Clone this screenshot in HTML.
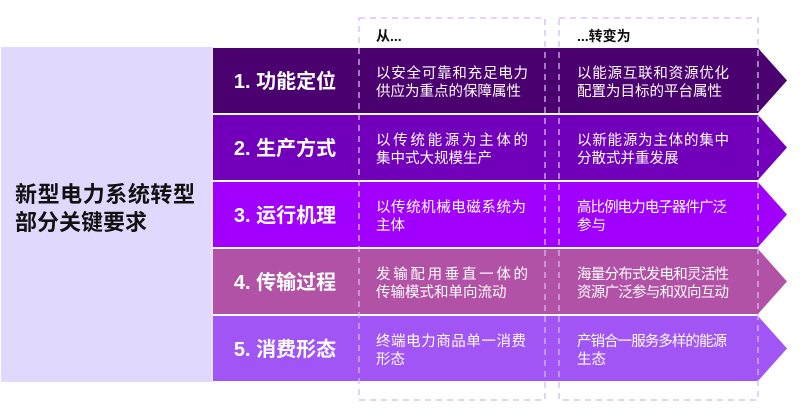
<!DOCTYPE html>
<html><head><meta charset="utf-8"><style>
html,body{margin:0;padding:0;background:#fff;}
svg{display:block;}
text{font-family:"Liberation Sans","Noto Sans CJK SC",sans-serif;}
.lab{font-size:20px;font-weight:bold;fill:#fff;text-anchor:middle;}
.t{font-size:14.5px;fill:#fff;}
.h{font-size:14px;font-weight:bold;fill:#111;}
</style></head><body>
<svg width="800" height="419" viewBox="0 0 800 419" xmlns="http://www.w3.org/2000/svg">
<rect x="0" y="0" width="800" height="419" fill="#fff"/>
<rect x="1" y="47" width="210" height="335" fill="#e1d9fd"/>
<text x="15" y="202" font-size="22" font-weight="bold" fill="#111" textLength="180">新型电力系统转型</text>
<text x="15" y="230" font-size="22" font-weight="bold" fill="#111">部分关键要求</text>

<rect x="211" y="47" width="3" height="335" fill="#e8e0ff"/>
<polygon points="213,48 758,48 787,80.5 758,113 213,113" fill="#4b006f"/>
<polygon points="213,115 758,115 787,147.5 758,180 213,180" fill="#7200bb"/>
<polygon points="213,182 758,182 787,214.5 758,247 213,247" fill="#a100ff"/>
<polygon points="213,249 758,249 787,281.5 758,314 213,314" fill="#b252a6"/>
<polygon points="213,316 758,316 787,348.5 758,381 213,381" fill="#a155f5"/>

<g fill="none" stroke="#d8b8f5" stroke-width="1.3" stroke-dasharray="6,5">
<rect x="359" y="18" width="186" height="143" stroke="none"/>
<path d="M359,18 L545,18 L545,400 L359,400 Z"/>
<path d="M559,18 L758,18 L758,400 L559,400 Z"/>
</g>

<text class="h" x="376" y="41">从...</text>
<text class="h" x="577" y="41">...转变为</text>

<text class="lab" x="285" y="88">1. 功能定位</text>
<text class="lab" x="285" y="155">2. 生产方式</text>
<text class="lab" x="285" y="222">3. 运行机理</text>
<text class="lab" x="285" y="289">4. 传输过程</text>
<text class="lab" x="285" y="356">5. 消费形态</text>

<text class="t" x="376" y="78" textLength="152">以安全可靠和充足电力</text>
<text class="t" x="376" y="96">供应为重点的保障属性</text>
<text class="t" x="577" y="78" textLength="152">以能源互联和资源优化</text>
<text class="t" x="577" y="96">配置为目标的平台属性</text>

<text class="t" x="376" y="145" textLength="152">以传统能源为主体的</text>
<text class="t" x="376" y="163">集中式大规模生产</text>
<text class="t" x="577" y="145" textLength="152">以新能源为主体的集中</text>
<text class="t" x="577" y="163">分散式并重发展</text>

<text class="t" x="376" y="212" textLength="150">以传统机械电磁系统为</text>
<text class="t" x="376" y="230">主体</text>
<text class="t" x="577" y="212" textLength="150">高比例电力电子器件广泛</text>
<text class="t" x="577" y="230">参与</text>

<text class="t" x="376" y="279" textLength="152">发输配用垂直一体的</text>
<text class="t" x="376" y="297">传输模式和单向流动</text>
<text class="t" x="577" y="279" textLength="152">海量分布式发电和灵活性</text>
<text class="t" x="577" y="297" textLength="152">资源广泛参与和双向互动</text>

<text class="t" x="376" y="346" textLength="150">终端电力商品单一消费</text>
<text class="t" x="376" y="364">形态</text>
<text class="t" x="577" y="346" textLength="150">产销合一服务多样的能源</text>
<text class="t" x="577" y="364">生态</text>
</svg>
</body></html>
